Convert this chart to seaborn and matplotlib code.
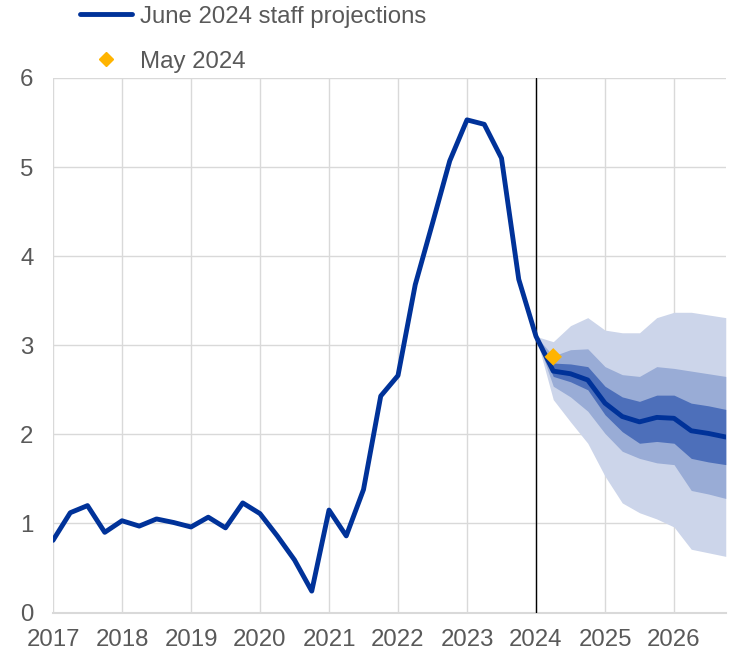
import numpy as np
import pandas as pd
import matplotlib
matplotlib.use("Agg")
import matplotlib.pyplot as plt
import seaborn as sns
from matplotlib.lines import Line2D

# ---- data ----
years = list(range(2017, 2027))
quarters = [y + q / 4 for y in years for q in range(4)]  # 2017Q1 .. 2026Q4

june_2024 = [0.81, 1.12, 1.20, 0.90,   # 2017
             1.03, 0.97, 1.05, 1.01,   # 2018
             0.96, 1.07, 0.95, 1.23,   # 2019
             1.11, 0.86, 0.59, 0.24,   # 2020
             1.15, 0.86, 1.38, 2.43,   # 2021
             2.66, 3.68, 4.37, 5.07,   # 2022
             5.53, 5.48, 5.10, 3.74,   # 2023
             3.10, 2.71, 2.68, 2.61,   # 2024
             2.35, 2.20, 2.14, 2.19,   # 2025
             2.18, 2.04, 2.01, 1.97]   # 2026

fan_x = quarters[28:]  # 2024Q1 .. 2026Q4
outer_hi = [3.10, 3.04, 3.22, 3.31, 3.17, 3.14, 3.14, 3.31, 3.37, 3.37, 3.34, 3.31]
outer_lo = [3.10, 2.39, 2.14, 1.90, 1.53, 1.23, 1.12, 1.05, 0.96, 0.71, 0.67, 0.63]
mid_hi   = [3.10, 2.88, 2.95, 2.96, 2.76, 2.67, 2.65, 2.76, 2.74, 2.71, 2.68, 2.65]
mid_lo   = [3.10, 2.54, 2.42, 2.26, 2.01, 1.81, 1.73, 1.68, 1.66, 1.37, 1.33, 1.28]
inner_hi = [3.10, 2.80, 2.79, 2.76, 2.54, 2.42, 2.37, 2.44, 2.44, 2.35, 2.32, 2.28]
inner_lo = [3.10, 2.65, 2.59, 2.50, 2.22, 2.03, 1.90, 1.92, 1.90, 1.73, 1.69, 1.66]

may_x = [2024.25]
may_2024 = [2.87]

x_ticks = years
y_ticks = [0, 1, 2, 3, 4, 5, 6]
labels = ["June 2024 staff projections", "May 2024"]

# ---- styling ----
sns.set_theme(style="whitegrid")
plt.rcParams['font.family'] = ['Liberation Sans', 'DejaVu Sans']

LINE = "#003299"
C_OUT = "#ccd5ea"
C_MID = "#99acd6"
C_IN = "#4d6fba"
DIAM = "#ffb400"
GRID = "#d9d9d9"
TXT = "#595959"
FS = 17.3

fig = plt.figure(figsize=(7.29, 6.53), dpi=100)
ax = fig.add_axes([53 / 729, 1 - 612.5 / 653, (725.75 - 53) / 729, (612.5 - 78) / 653])

ax.fill_between(fan_x, outer_lo, outer_hi, color=C_OUT, lw=0, zorder=1)
ax.fill_between(fan_x, mid_lo, mid_hi, color=C_MID, lw=0, zorder=2)
ax.fill_between(fan_x, inner_lo, inner_hi, color=C_IN, lw=0, zorder=3)

df = pd.DataFrame({"x": quarters, "y": june_2024})
sns.lineplot(data=df, x="x", y="y", ax=ax, color=LINE, lw=3.5, zorder=5)

ax.axvline(2024, ymin=0, ymax=1, color="black", lw=1, zorder=4)

dm = pd.DataFrame({"x": may_x, "y": may_2024})
sns.scatterplot(data=dm, x="x", y="y", ax=ax, marker="D", s=80, color=DIAM,
                edgecolor="none", zorder=6)

ax.set_xlim(2017, 2026.75)
ax.set_ylim(0, 6)
ax.set_xticks(x_ticks)
ax.set_yticks(y_ticks)
ax.set_xlabel("")
ax.set_ylabel("")
ax.grid(True, color=GRID, lw=1)
for s in ["left", "right", "top"]:
    ax.spines[s].set_visible(False)
ax.spines["bottom"].set_color(GRID)
ax.spines["bottom"].set_linewidth(1.5)
ax.tick_params(axis="both", length=0, labelsize=FS, colors=TXT)
ax.tick_params(axis="x", pad=12)
ax.tick_params(axis="y", pad=14)

handles = [Line2D([0], [0], color=LINE, lw=3.5),
           Line2D([0], [0], color=DIAM, marker="D", ls="none", markersize=7)]
fig.legend(handles, labels, loc="upper left", bbox_to_anchor=(70 / 729, 1.006),
           frameon=False, fontsize=FS, labelcolor=TXT, handlelength=2.2,
           handletextpad=0.3, labelspacing=0.95, borderaxespad=0.0)

fig.savefig("out.png", dpi=100)
